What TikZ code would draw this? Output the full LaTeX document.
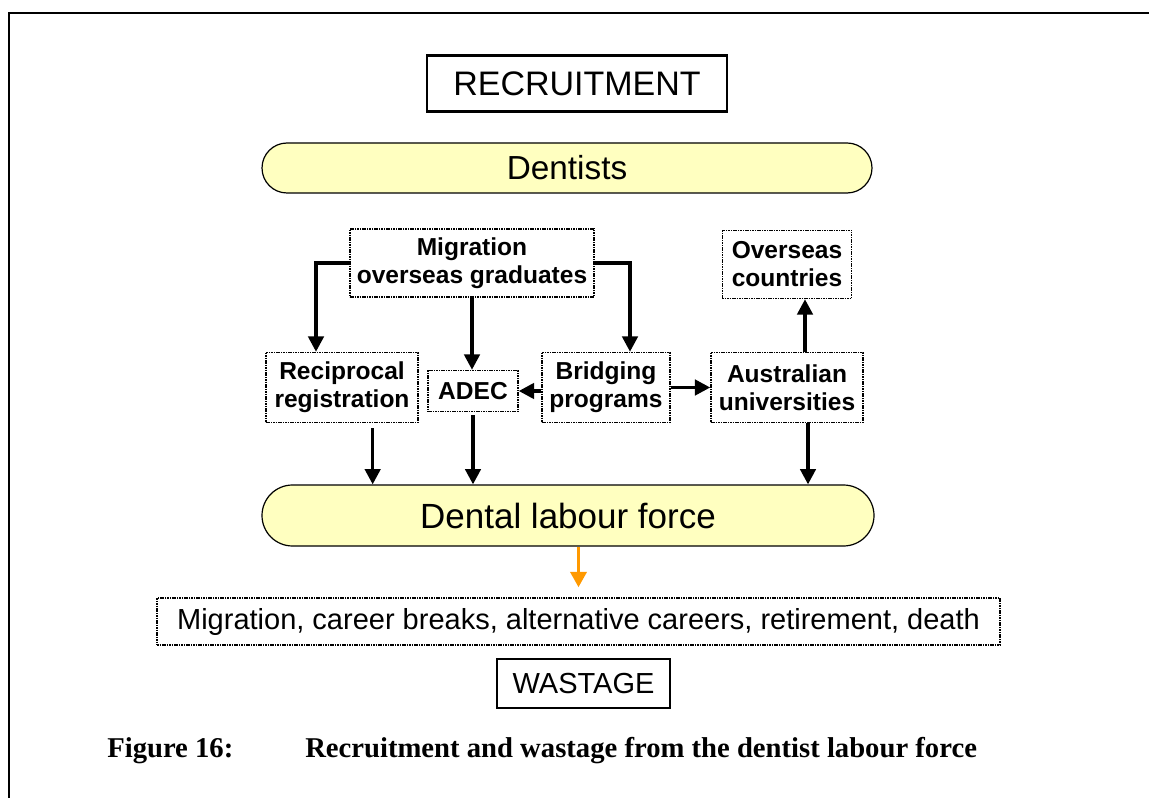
\documentclass[tikz,border=0pt]{standalone}
\usepackage{fontspec}
\setmainfont{Liberation Sans}
\newfontfamily\capfont{Liberation Serif}
\usepackage{xcolor}
\usetikzlibrary{positioning,calc,arrows.meta}
\definecolor{pillyellow}{RGB}{255,255,192}
\definecolor{wasteorange}{RGB}{255,153,0}

\begin{document}
\begin{tikzpicture}[x=0.75pt, y=-0.75pt,
    heading/.style={draw, line width=1.8pt, inner sep=0pt, font=\fontsize{25.5}{30}\selectfont},
    pill/.style={draw, line width=0.9pt, fill=pillyellow, rounded corners=#1, inner sep=0pt},
    dotbox/.style={draw, line width=1.1pt, dash pattern=on 1.2pt off 0.6pt, inner sep=0pt, align=center, font=\fontsize{18.4}{21}\selectfont\bfseries},
    flow/.style={-{Triangle[length=11.5pt,width=11.5pt]}, line width=2.6pt},
    loss/.style={-{Triangle[length=11.5pt,width=12pt]}, line width=2.6pt, wasteorange}]

    \useasboundingbox (0,0) rectangle (1149,798);
    \draw[line width=2pt] (9,798) -- (9,13) -- (1149,13);

    % recruitment side
    \node[heading, minimum width=225pt, minimum height=42pt] (recruit) at (577,83.5) {RECRUITMENT};
    \node[pill=18.75pt, minimum width=457.5pt, minimum height=37.5pt, font=\fontsize{25}{30}\selectfont] (dentists) at (567,168) {Dentists};

    \node[dotbox, minimum width=183pt, minimum height=51pt] (migr) at (472,263) {Migration\\overseas graduates};
    \node[dotbox, minimum width=97pt, minimum height=51pt] (overseas) at (787,264.5) {Overseas\\countries};
    \node[dotbox, minimum width=114pt, minimum height=52.5pt] (recip) at (342,387.5) {Reciprocal\\registration};
    \node[dotbox, minimum width=67.5pt, minimum height=30.75pt] (adec) at (473,391) {ADEC};
    \node[dotbox, minimum width=96pt, minimum height=52.5pt] (bridging) at (606,387.5) {Bridging\\programs};
    \node[dotbox, minimum width=114pt, minimum height=52.5pt] (austral) at (787,387.5) {Australian\\universities};

    \node[pill=22.9pt, minimum width=459pt, minimum height=45.75pt, font=\fontsize{26.25}{30}\selectfont] (dlf) at (568,515.5) {Dental labour force};

    % wastage side
    \node[dotbox, minimum width=632pt, minimum height=35.25pt, font=\fontsize{21.75}{26}\selectfont] (losses) at (578.5,621.5) {Migration, career breaks, alternative careers, retirement, death};
    \node[heading, minimum width=130pt, minimum height=36.75pt, font=\fontsize{21.75}{26}\selectfont] (wastage) at (583.5,683.5) {WASTAGE};

    % connectors
    \draw[flow] (migr.west) -| ([xshift=-19.5pt]recip.north);
    \draw[flow] (migr.east) -| ([xshift=18pt]bridging.north);
    \draw[flow] (migr.south) -- (migr.south |- adec.north);
    \draw[flow] (bridging.west |- adec.east) -- (adec.east);
    \draw[flow] (bridging.east) -- (austral.west);
    \draw[flow] ([xshift=13.5pt]austral.north) -- ([xshift=13.5pt]austral.north |- overseas.south);
    \draw[flow] ([xshift=23pt,yshift=-3.75pt]recip.south) -- ([xshift=23pt]recip.south |- dlf.north);
    \draw[flow] ([yshift=-2.25pt]adec.south) -- (adec.south |- dlf.north);
    \draw[flow] ([xshift=15.75pt]austral.south) -- ([xshift=15.75pt]austral.south |- dlf.north);
    \draw[loss] (losses.north |- dlf.south) -- ([yshift=7.5pt]losses.north);

    % caption
    \node[anchor=base west, inner sep=0pt, font=\capfont\bfseries\fontsize{21.5}{25}\selectfont] (fignum) at (107,757) {Figure 16:};
    \node[anchor=base west, inner sep=0pt, font=\capfont\bfseries\fontsize{21.5}{25}\selectfont] (figtitle) at (305,757) {Recruitment and wastage from the dentist labour force};
\end{tikzpicture}
\end{document}
